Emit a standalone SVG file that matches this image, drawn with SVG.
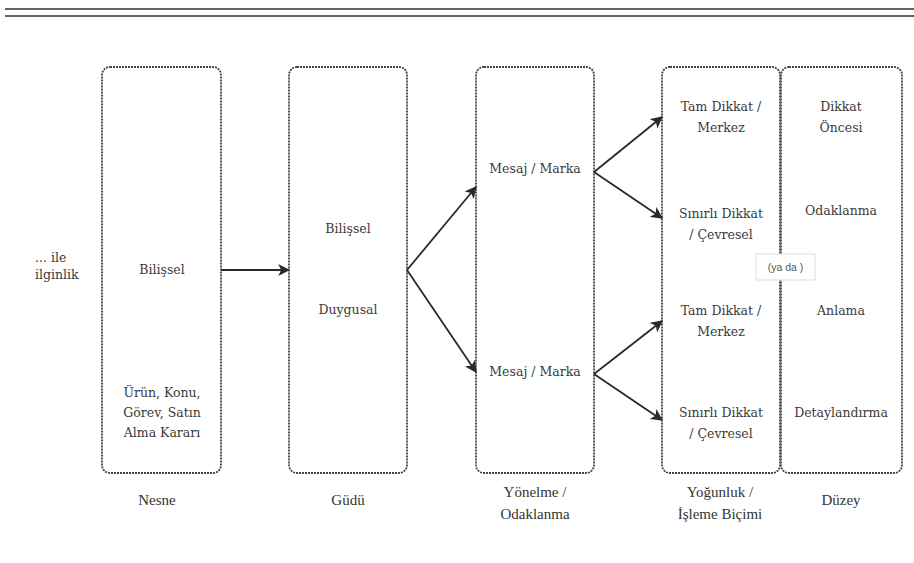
<svg xmlns="http://www.w3.org/2000/svg" width="914" height="563" viewBox="0 0 914 563">
<style>
.box{fill:none;stroke:#444;stroke-width:1.8;stroke-dasharray:2 1}
.t{font-family:"DejaVu Serif",serif;font-size:12.5px;fill:#3a3a3a;text-anchor:middle}
.s{text-anchor:start}
.l{font-family:"Liberation Serif","Times New Roman",serif;font-size:15px;fill:#333;text-anchor:middle}
.c{stroke:#2a2a2a;stroke-width:1.8;fill:none;marker-end:url(#ah)}
</style>
<defs>
<marker id="ah" viewBox="0 0 10 10" refX="9" refY="5" markerWidth="12" markerHeight="12" markerUnits="userSpaceOnUse" orient="auto">
<path d="M0,0 L10,5 L0,10 L2.5,5 Z" fill="#2a2a2a"/>
</marker>
</defs>
<rect width="914" height="563" fill="#fff"/>
<line x1="5" y1="9" x2="914" y2="9" stroke="#666" stroke-width="2"/>
<line x1="5" y1="16" x2="914" y2="16" stroke="#666" stroke-width="2"/>
<g id="side">
<text class="t s" x="35" y="262">... ile</text>
<text class="t s" x="35" y="279">ilginlik</text>
</g>
<g id="nesne">
<rect class="box" x="102" y="67" width="119" height="406" rx="8"/>
<text class="t" x="162" y="274">Bilişsel</text>
<text class="t" x="162" y="397">Ürün, Konu,</text>
<text class="t" x="162" y="417">Görev, Satın</text>
<text class="t" x="162" y="437">Alma Kararı</text>
</g>
<g id="gudu">
<rect class="box" x="289" y="67" width="118" height="406" rx="8"/>
<text class="t" x="348" y="233">Bilişsel</text>
<text class="t" x="348" y="314">Duygusal</text>
</g>
<g id="yonelme">
<rect class="box" x="476" y="67" width="118" height="406" rx="8"/>
<text class="t" x="535" y="173">Mesaj / Marka</text>
<text class="t" x="535" y="376">Mesaj / Marka</text>
</g>
<g id="yogunluk">
<rect class="box" x="662" y="67" width="118" height="406" rx="8"/>
<text class="t" x="721" y="111">Tam Dikkat /</text>
<text class="t" x="721" y="132">Merkez</text>
<text class="t" x="721" y="218">Sınırlı Dikkat</text>
<text class="t" x="721" y="239">/ Çevresel</text>
<text class="t" x="721" y="315">Tam Dikkat /</text>
<text class="t" x="721" y="336">Merkez</text>
<text class="t" x="721" y="417">Sınırlı Dikkat</text>
<text class="t" x="721" y="438">/ Çevresel</text>
</g>
<g id="duzey">
<rect class="box" x="781" y="67" width="121" height="406" rx="8"/>
<text class="t" x="841" y="111">Dikkat</text>
<text class="t" x="841" y="132">Öncesi</text>
<text class="t" x="841" y="215">Odaklanma</text>
<text class="t" x="841" y="315">Anlama</text>
<text class="t" x="841" y="417">Detaylandırma</text>
</g>
<g id="yada">
<rect x="756" y="254" width="59" height="26" fill="#fff" stroke="#ddd" stroke-width="1"/>
<text x="785.5" y="271" font-family="Liberation Sans,sans-serif" font-size="10.5" fill="#555" text-anchor="middle">(ya da )</text>
</g>
<g id="connectors">
<line class="c" x1="221" y1="270" x2="289" y2="270"/>
<line class="c" x1="407" y1="270" x2="476" y2="187"/>
<line class="c" x1="407" y1="270" x2="476" y2="372"/>
<line class="c" x1="594" y1="172" x2="662" y2="117"/>
<line class="c" x1="594" y1="172" x2="662" y2="218"/>
<line class="c" x1="594" y1="374" x2="662" y2="321"/>
<line class="c" x1="594" y1="374" x2="662" y2="420"/>
</g>
<g id="labels">
<text class="l" x="157" y="505">Nesne</text>
<text class="l" x="348" y="505">Güdü</text>
<text class="l" x="535" y="497">Yönelme /</text>
<text class="l" x="535" y="519">Odaklanma</text>
<text class="l" x="720" y="497">Yoğunluk /</text>
<text class="l" x="720" y="519">İşleme Biçimi</text>
<text class="l" x="841" y="505">Düzey</text>
</g>
</svg>
